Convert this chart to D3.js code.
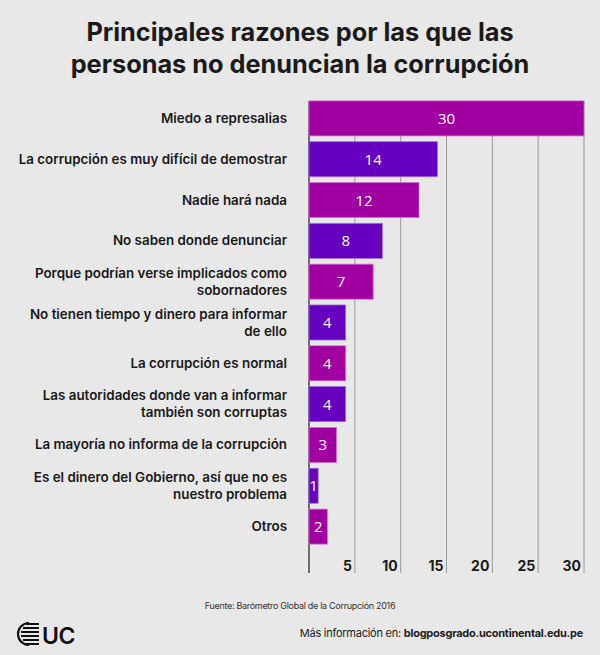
<!DOCTYPE html>
<html><head><meta charset="utf-8">
<script src="https://cdn.jsdelivr.net/npm/d3@7"></script>
<style>
html,body{margin:0;padding:0;background:#e8e8e8;}
svg{display:block;}
</style></head>
<body>
<script>
const categories = [
  ["Miedo a represalias"],
  ["La corrupción es muy difícil de demostrar"],
  ["Nadie hará nada"],
  ["No saben donde denunciar"],
  ["Porque podrían verse implicados como","sobornadores"],
  ["No tienen tiempo y dinero para informar","de ello"],
  ["La corrupción es normal"],
  ["Las autoridades donde van a informar","también son corruptas"],
  ["La mayoría no informa de la corrupción"],
  ["Es el dinero del Gobierno, así que no es","nuestro problema"],
  ["Otros"]
];
const values = [30,14,12,8,7,4,4,4,3,1,2];
const tickValues = [5,10,15,20,25,30];
const colors = ["#a100a1","#6500bf"];
const titleLines = ["Principales razones por las que las","personas no denuncian la corrupción"];
const source = "Fuente: Barómetro Global de la Corrupción 2016";

const W=600,H=655;
const svg=d3.select("body").append("svg").attr("width",W).attr("height",H);
svg.append("rect").attr("width",W).attr("height",H).attr("fill","#e8e8e8");

const ids = categories.map((c,i)=>i);
const x = d3.scaleLinear().domain([0,30]).range([309,584]);
const y = d3.scaleBand().domain(ids).range([98,547]).paddingInner(0.142).paddingOuter(0.071);

// title
svg.append("text").attr("x",300).attr("y",0).attr("text-anchor","middle")
  .attr("font-family","Inter, sans-serif").attr("font-weight",700).attr("font-size",25.3).attr("fill","#1a1a1a")
  .selectAll("tspan").data(titleLines).join("tspan").attr("x",300).attr("y",(d,i)=>41+i*31.5).text(d=>d);

// gridlines
const gTop = 101, gBot = 573;
svg.append("g").selectAll("line").data(tickValues).join("line")
  .attr("x1",d=>x(d)).attr("x2",d=>x(d)).attr("y1",gTop).attr("y2",gBot)
  .attr("stroke","#9a9a9a").attr("stroke-width",1);
svg.append("line").attr("x1",x(0)).attr("x2",x(0)).attr("y1",gTop).attr("y2",gBot)
  .attr("stroke","#444").attr("stroke-width",1.5);

// tick labels
svg.append("g").selectAll("text").data(tickValues).join("text")
  .attr("x",d=>x(d)-3).attr("y",571).attr("text-anchor","end")
  .attr("font-family","Inter, sans-serif").attr("font-weight",700).attr("font-size",14).attr("fill","#1a1a1a")
  .text(d=>d);

// bars
svg.append("g").selectAll("rect").data(ids).join("rect")
  .attr("x",x(0)).attr("y",i=>y(i)).attr("width",i=>x(values[i])-x(0)).attr("height",y.bandwidth())
  .attr("fill",i=>colors[i%2]).attr("stroke",i=>i%2?"#9a6ce0":"#d070d0").attr("stroke-width",0.8);

// value labels
svg.append("g").selectAll("text").data(ids).join("text")
  .attr("x",i=>(x(0)+x(values[i]))/2).attr("y",i=>y(i)+y.bandwidth()/2+5.5)
  .attr("text-anchor","middle").attr("font-family","'Open Sans', sans-serif").attr("font-size",15)
  .attr("fill","#fff").text(i=>values[i]);

// category labels
const lab = svg.append("g").selectAll("text").data(ids).join("text")
  .attr("text-anchor","end").attr("font-family","Inter, sans-serif").attr("font-weight",600)
  .attr("font-size",13.4).attr("fill","#1a1a1a");
lab.each(function(i){
  const lines = categories[i];
  const cy = y(i)+y.bandwidth()/2;
  const lh = 17;
  d3.select(this).selectAll("tspan").data(lines).join("tspan")
    .attr("x",287).attr("y",(d,k)=>cy+4.5+(k-(lines.length-1)/2)*lh).text(d=>d);
});

// footer
svg.append("text").attr("x",300).attr("y",609).attr("text-anchor","middle")
  .attr("font-family","Inter, sans-serif").attr("font-size",9).attr("fill","#333").attr("letter-spacing",-0.3).text(source);

const info = svg.append("text").attr("x",583).attr("y",637).attr("text-anchor","end")
  .attr("font-family","Inter, sans-serif").attr("font-size",11).attr("letter-spacing",-0.25).attr("fill","#222");
info.append("tspan").text("Más información en: ");
info.append("tspan").attr("font-weight",700).text("blogposgrado.ucontinental.edu.pe");

// logo
const logo = svg.append("g").attr("transform","translate(17,623)");
logo.append("path").attr("d","M9,1 H22 M6,5 H22 M4,9 H22 M4,13 H22 M6,17 H22 M9,21 H22")
  .attr("stroke","#111").attr("stroke-width",2.2).attr("fill","none");
logo.append("path").attr("d","M12,0 A11,11 0 0 0 12,22").attr("stroke","#111").attr("stroke-width",2.2).attr("fill","none");
logo.append("text").attr("x",25).attr("y",20.5).attr("font-family","Inter, sans-serif").attr("font-weight",600)
  .attr("font-size",23).attr("fill","#111").attr("letter-spacing",-0.5).text("UC");
</script>
</body></html>
